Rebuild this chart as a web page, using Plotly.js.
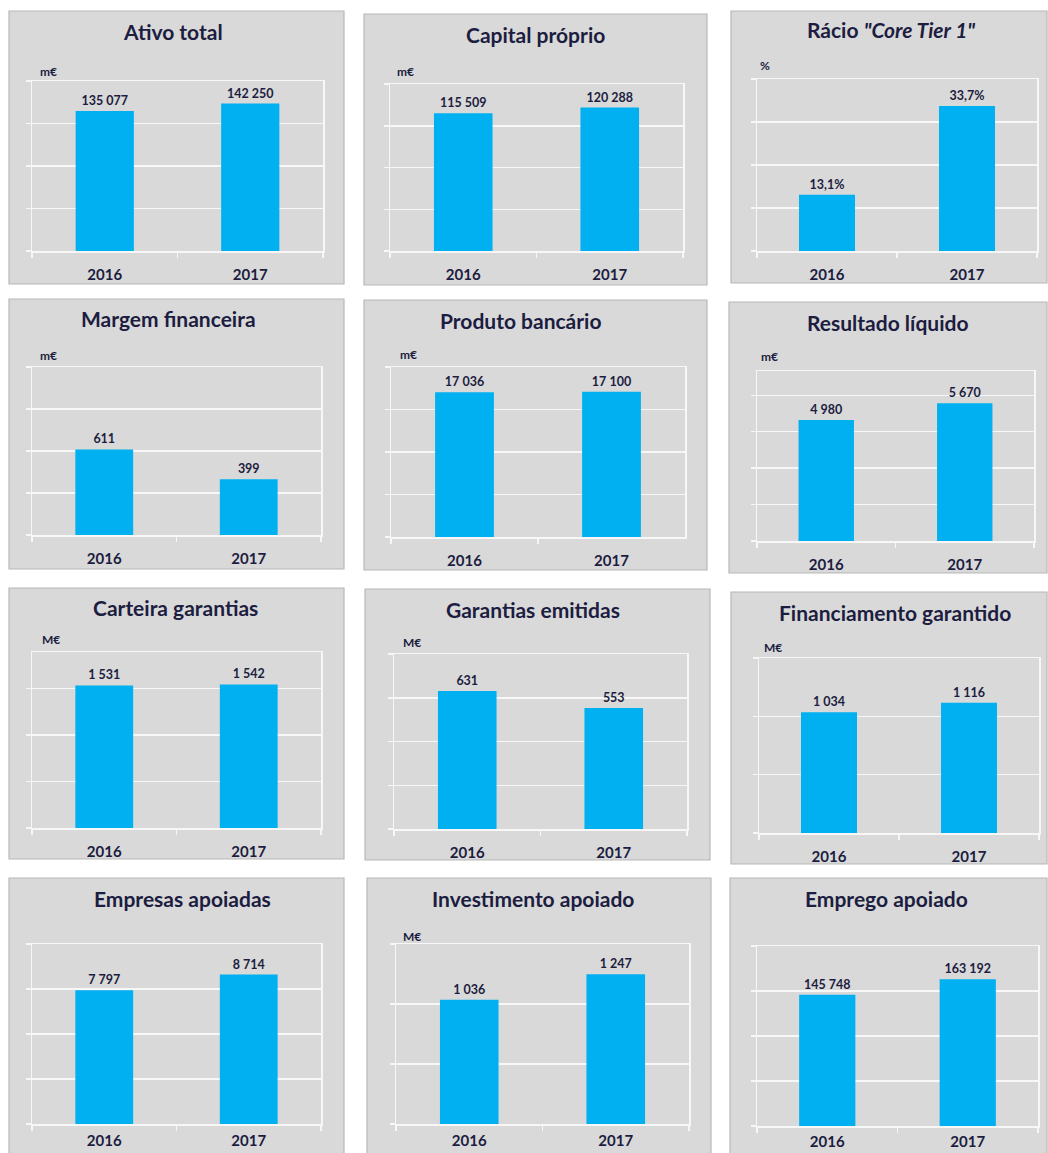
<!DOCTYPE html>
<html><head><meta charset="utf-8">
<script src="https://cdn.plot.ly/plotly-3.0.1.min.js"></script>
<style>html,body{margin:0;padding:0;background:#fff}</style>
</head><body><div id="chart" style="width:1048px;height:1153px"></div>
<script>
// ---- data ----
const years = ['2016', '2017'];
const titles = ['Ativo total', 'Capital próprio', 'Rácio <i>"Core Tier 1"</i>',
  'Margem financeira', 'Produto bancário', 'Resultado líquido',
  'Carteira garantias', 'Garantias emitidas', 'Financiamento garantido',
  'Empresas apoiadas', 'Investimento apoiado', 'Emprego apoiado'];
const units = ['m€', 'm€', '%', 'm€', 'm€', 'm€', 'M€', 'M€', 'M€', '', 'M€', ''];
const ativoTotal = [135077, 142250];
const capitalProprio = [115509, 120288];
const racioCoreTier1 = [13.1, 33.7];
const margemFinanceira = [611, 399];
const produtoBancario = [17036, 17100];
const resultadoLiquido = [4980, 5670];
const carteiraGarantias = [1531, 1542];
const garantiasEmitidas = [631, 553];
const financiamentoGarantido = [1034, 1116];
const empresasApoiadas = [7797, 8714];
const investimentoApoiado = [1036, 1247];
const empregoApoiado = [145748, 163192];
const series = [ativoTotal, capitalProprio, racioCoreTier1, margemFinanceira, produtoBancario,
  resultadoLiquido, carteiraGarantias, garantiasEmitidas, financiamentoGarantido,
  empresasApoiadas, investimentoApoiado, empregoApoiado];
const isPercent = [false, false, true, false, false, false, false, false, false, false, false, false];

// ---- geometry (pixels) ----
const W = 1048, H = 1153;
const geo = [
  {box:[9,11,344,284],   plot:[32,323,81,251],   ymax:164000, dt:41000, tx:173, ty:32,  ux:38,  uy:71,  so:9},
  {box:[364,14,707,285], plot:[390,683,84,251],  ymax:140000, dt:35000, tx:535, ty:35,  ux:395, uy:71,  so:9},
  {box:[731,11,1047,283],plot:[757,1037,79,251], ymax:40,     dt:10,    tx:891, ty:30,  ux:758, uy:66,  so:9},
  {box:[9,299,344,569],  plot:[32,321,367,535],  ymax:1200,   dt:300,   tx:168, ty:318, ux:38,  uy:355, so:9},
  {box:[364,300,707,570],plot:[391,685,367,537], ymax:20000,  dt:5000,  tx:521, ty:320, ux:398, uy:354, so:9},
  {box:[729,302,1047,573],plot:[757,1034,371,541],ymax:7000,  dt:1500,  tx:888, ty:322, ux:759, uy:356, so:9},
  {box:[9,588,344,859],  plot:[32,321,652,828],  ymax:1890,   dt:500,   tx:175, ty:607, ux:40,  uy:639, so:9},
  {box:[365,589,710,860],plot:[394,687,654,829], ymax:800,    dt:200,   tx:533, ty:609, ux:401, uy:643, so:9},
  {box:[731,592,1047,864],plot:[759,1039,658,833],ymax:1500,  dt:500,   tx:895, ty:612, ux:762, uy:647, so:9},
  {box:[9,878,344,1170], plot:[32,321,944,1124], ymax:10500,  dt:2625,  tx:182, ty:898, ux:40,  uy:936, so:2},
  {box:[367,878,711,1170],plot:[396,689,944,1124],ymax:1500,  dt:500,   tx:533, ty:898, ux:401, uy:936, so:2},
  {box:[730,878,1047,1170],plot:[757,1038,946,1126],ymax:200000,dt:50000,tx:886, ty:898, ux:762, uy:936, so:1}
];

const NAVY = '#1c1d40';
const FONT = 'Lato, "Open Sans", sans-serif';
const GRID = '#f7f7f7';
const fmt = (v, pct) => pct ? v.toFixed(1).replace('.', ',') + '%'
  : String(v).replace(/\B(?=(\d{3})+(?!\d))/g, ' ');

const px = x => x / W;
const py = y => 1 - y / H;

const traces = [], shapes = [], annotations = [];
const layout = {
  width: W, height: H, margin: {l:0, r:0, t:0, b:0},
  paper_bgcolor: '#ffffff', plot_bgcolor: 'rgba(0,0,0,0)',
  showlegend: false, font: {family: FONT, color: NAVY},
  bargap: 0.6
};

geo.forEach((g, i) => {
  const n = i === 0 ? '' : String(i + 1);
  const xa = 'x' + n, ya = 'y' + n;
  traces.push({
    type: 'bar', x: years, y: series[i], xaxis: xa, yaxis: ya,
    width: 0.4,
    marker: {color: '#00b0f0', line: {width: 0}},
    text: series[i].map(v => fmt(v, isPercent[i])),
    textposition: 'outside', cliponaxis: false, constraintext: 'none',
    textfont: {family: FONT, size: 12.5, color: NAVY, weight: 'bold'},
    hoverinfo: 'none'
  });
  const [l, r, t, b] = g.plot;
  layout['xaxis' + n] = {
    domain: [px(l), px(r)], anchor: ya, type: 'category',
    showgrid: false, zeroline: false,
    showline: true, linecolor: GRID, linewidth: 1.5, mirror: true,
    ticks: 'outside', tickson: 'boundaries', ticklen: 5, tickcolor: GRID, tickwidth: 1.5,
    ticklabelstandoff: g.so,
    tickfont: {family: FONT, size: 15, color: NAVY, weight: 'bold'},
    fixedrange: true
  };
  layout['yaxis' + n] = {
    domain: [py(b), py(t)], anchor: xa, range: [0, g.ymax],
    tick0: 0, dtick: g.dt, showticklabels: false,
    showgrid: true, gridcolor: GRID, gridwidth: 1.5, zeroline: false,
    showline: true, linecolor: GRID, linewidth: 1.5, mirror: true,
    ticks: 'outside', ticklen: 5, tickcolor: GRID, tickwidth: 1.5,
    fixedrange: true
  };
  const [x0, y0, x1, y1] = g.box;
  shapes.push({type: 'rect', xref: 'paper', yref: 'paper', layer: 'below',
    x0: px(x0), x1: px(x1), y0: py(y1), y1: py(y0),
    fillcolor: '#d9d9d9', line: {color: '#b8b8b8', width: 1.2}});
  annotations.push({xref: 'paper', yref: 'paper', x: px(g.tx), y: py(g.ty),
    xanchor: 'center', yanchor: 'middle', showarrow: false, text: titles[i],
    font: {family: FONT, size: 21, color: NAVY, weight: 'bold'}});
  if (units[i]) annotations.push({xref: 'paper', yref: 'paper', x: px(g.ux), y: py(g.uy),
    xanchor: 'left', yanchor: 'middle', showarrow: false, text: units[i],
    font: {family: FONT, size: 12, color: NAVY, weight: 'bold'}});
});
layout.shapes = shapes;
layout.annotations = annotations;
Plotly.newPlot('chart', traces, layout, {displayModeBar: false, staticPlot: true});
</script>
</body></html>
